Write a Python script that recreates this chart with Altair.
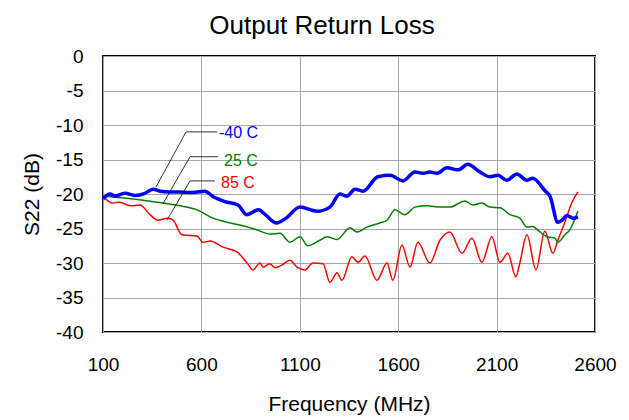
import altair as alt
import pandas as pd

FONT = "Liberation Sans"

# -40 C series
blue_x = [100, 136, 161, 212, 263, 313, 354, 390, 440, 491, 542, 618, 660, 720, 786, 830, 890, 925, 982, 1030,
          1101, 1167, 1187, 1253, 1304, 1340, 1380, 1421, 1497, 1558, 1624, 1685, 1726, 1762, 1797, 1848, 1904,
          1954, 2015, 2066, 2107, 2152, 2203, 2254, 2284, 2345, 2371, 2411, 2432, 2457, 2488, 2513]
blue_y = [-20.7, -20.0, -20.3, -19.9, -20.2, -19.9, -19.3, -19.6, -19.7, -19.7, -19.8, -19.6, -20.4, -21.1,
          -21.6, -23.0, -22.3, -23.0, -24.2, -23.5, -21.9, -22.4, -22.5, -21.9, -20.0, -20.3, -19.3, -19.6,
          -17.5, -17.3, -18.1, -16.8, -17.0, -16.8, -17.0, -16.2, -16.5, -15.7, -16.8, -17.5, -17.3, -18.0,
          -17.1, -18.0, -17.7, -19.5, -20.3, -24.1, -23.8, -23.1, -23.5, -23.3]

# 25 C series
green_x = [100, 303, 405, 491, 578, 659, 730, 811, 882, 948, 999, 1050, 1101, 1141, 1202, 1238, 1289, 1355,
           1390, 1441, 1507, 1543, 1584, 1634, 1685, 1746, 1812, 1863, 1939, 1980, 2025, 2066, 2117, 2168, 2218,
           2254, 2284, 2320, 2356, 2396, 2411, 2447, 2472, 2513]
green_y = [-20.3, -20.9, -21.3, -21.7, -22.3, -23.5, -24.1, -24.6, -25.2, -25.8, -25.7, -27.0, -26.2, -27.5,
           -26.7, -26.2, -26.6, -24.9, -25.5, -24.8, -24.2, -23.8, -22.3, -23.0, -21.9, -21.7, -21.9, -21.9,
           -21.0, -21.6, -21.3, -21.9, -22.0, -23.0, -23.5, -24.8, -24.7, -25.5, -26.2, -26.4, -27.0, -25.9,
           -25.2, -22.5]

# 85 C series
red_x = [100, 146, 186, 237, 288, 339, 379, 425, 456, 501, 578, 608, 644, 710, 781, 832, 862, 898, 913, 948,
         974, 1009, 1050, 1086, 1126, 1167, 1218, 1253, 1289, 1314, 1365, 1395, 1431, 1492, 1543, 1573, 1619,
         1660, 1700, 1761, 1812, 1863, 1924, 1975, 2025, 2076, 2117, 2157, 2198, 2218, 2254, 2300, 2345, 2386,
         2411, 2447, 2483, 2513]
red_y = [-20.3, -21.3, -21.2, -21.7, -21.6, -23.0, -23.8, -23.5, -23.8, -25.9, -26.1, -27.0, -26.8, -27.7,
         -28.4, -30.0, -31.0, -30.0, -30.6, -30.1, -30.7, -30.3, -29.6, -30.6, -31.0, -30.0, -30.1, -32.8,
         -31.4, -32.5, -29.1, -29.9, -29.0, -32.5, -30.0, -32.5, -27.4, -30.6, -27.0, -30.0, -26.7, -25.5,
         -28.6, -26.4, -29.9, -26.2, -29.9, -28.6, -32.0, -30.0, -25.9, -31.0, -25.4, -28.6, -26.7, -24.1,
         -21.2, -19.7]

# labels
label_text = ["-40 C", "25 C", "85 C"]
label_color = ["#0000ff", "#008000", "#ff0000"]
label_x = [689, 715, 700]
label_y = [-11.2, -15.2, -18.4]

# leader lines (segment start / end)
lead_x1 = [522, 522, 542, 542, 542, 542]
lead_y1 = [-11.0, -11.0, -14.6, -14.6, -18.1, -18.1]
lead_x2 = [679, 369, 684, 405, 669, 425]
lead_y2 = [-11.0, -19.0, -14.6, -21.4, -18.1, -23.8]

x_ticks = [100, 600, 1100, 1600, 2100, 2600]
y_ticks = [0, -5, -10, -15, -20, -25, -30, -35, -40]

xs = alt.Scale(domain=[100, 2600], nice=False, zero=False)
ys = alt.Scale(domain=[-40, 0], nice=False, zero=False)

x_axis = alt.Axis(values=x_ticks, title="Frequency (MHz)", labelPadding=23, titlePadding=19,
                  labelExpr="datum.value + ''", labelFlush=False, labelOverlap=False)
y_axis = alt.Axis(values=y_ticks, title="S22 (dB)", labelPadding=20, titlePadding=13,
                  labelExpr="datum.value + ''", labelFlush=False, labelOverlap=False)


def series(xv, yv, color, width):
    df = pd.DataFrame({"f": xv, "s": yv})
    return alt.Chart(df).mark_line(color=color, strokeWidth=width, interpolate="monotone").encode(
        x=alt.X("f:Q", scale=xs, axis=x_axis),
        y=alt.Y("s:Q", scale=ys, axis=y_axis),
    )


lead_df = pd.DataFrame({"x1": lead_x1, "y1": lead_y1, "x2": lead_x2, "y2": lead_y2})
leads = alt.Chart(lead_df).mark_rule(color="black", strokeWidth=0.8).encode(
    x=alt.X("x1:Q", scale=xs, axis=x_axis), y=alt.Y("y1:Q", scale=ys, axis=y_axis), x2="x2:Q", y2="y2:Q"
)

lab_df = pd.DataFrame({"t": label_text, "c": label_color, "x": label_x, "y": label_y})
labels = alt.Chart(lab_df).mark_text(align="left", baseline="middle", fontSize=16, font=FONT).encode(
    x=alt.X("x:Q", scale=xs, axis=x_axis), y=alt.Y("y:Q", scale=ys, axis=y_axis), text="t:N",
    color=alt.Color("c:N", scale=None),
)

chart = alt.layer(
    series(red_x, red_y, "#ff0000", 1.5),
    series(green_x, green_y, "#008000", 1.5),
    series(blue_x, blue_y, "#0000ff", 3.5),
    leads,
    labels,
).properties(
    width=492,
    height=276,
    autosize=alt.AutoSizeParams(type="none"),
    padding={"left": 95, "top": 48, "right": 26, "bottom": 86},
    title=alt.TitleParams(
        "Output Return Loss", fontSize=26, font=FONT, fontWeight="normal", anchor="middle",
        dx=-27, offset=8, color="black",
    ),
).configure_view(
    stroke="black", strokeWidth=1.8
).configure_axis(
    grid=True, gridColor="#a6a6a6", gridWidth=1, domain=False, ticks=False,
    labelFont=FONT, labelFontSize=19, labelColor="black",
    titleFont=FONT, titleFontSize=21, titleFontWeight="normal", titleColor="black",
)

chart.save("out.html", embed_options={"renderer": "svg", "actions": False})
